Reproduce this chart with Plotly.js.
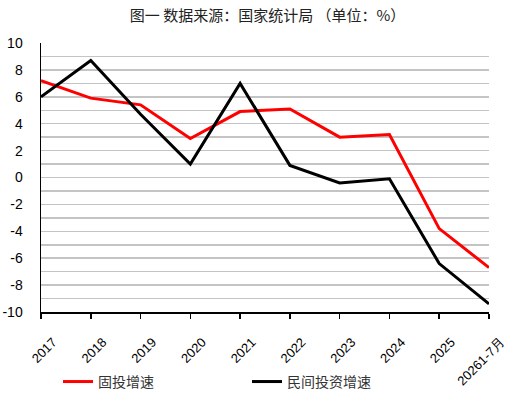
<!DOCTYPE html>
<html>
<head>
<meta charset="utf-8">
<script src="https://cdn.plot.ly/plotly-3.0.1.min.js"></script>
<style>html,body{margin:0;padding:0;background:#fff;}#chart{width:532px;height:400px;}</style>
</head>
<body>
<div id="chart"></div>
<script>
const categories = ['2017','2018','2019','2020','2021','2022','2023','2024','2025','20261-7月'];
const fixedInvestGrowth = [7.2, 5.9, 5.4, 2.9, 4.9, 5.1, 3.0, 3.2, -3.8, -6.7];
const privateInvestGrowth = [6.0, 8.7, 4.7, 1.0, 7.0, 0.9, -0.4, -0.1, -6.4, -9.4];
const seriesNames = ['固投增速', '民间投资增速'];
const yTickValues = [-10, -8, -6, -4, -2, 0, 2, 4, 6, 8, 10];
const yTickLabels = ['-10', '-8', '-6', '-4', '-2', '0', '2', '4', '6', '8', '10'];

const traces = [
  {x: categories, y: fixedInvestGrowth, name: seriesNames[0], type: 'scatter', mode: 'lines',
   line: {color: '#ff0000', width: 3}},
  {x: categories, y: privateInvestGrowth, name: seriesNames[1], type: 'scatter', mode: 'lines',
   line: {color: '#000000', width: 3}}
];

const layout = {
  width: 532, height: 400,
  margin: {l: 41, r: 43, t: 43, b: 88, autoexpand: false},
  paper_bgcolor: '#fff', plot_bgcolor: '#fff',
  font: {family: 'Liberation Sans, Arial, sans-serif', size: 13, color: '#000'},
  title: {text: '图一 数据来源：国家统计局 （单位：%）', x: 0.503, xanchor: 'center', y: 0.96, yanchor: 'middle',
          font: {family: 'Noto Sans CJK SC, sans-serif', size: 15, color: '#222'}},
  xaxis: {type: 'category', range: [0, 9], showgrid: false, zeroline: false, automargin: false,
          showline: true, linecolor: '#000', linewidth: 1.5,
          ticks: 'outside', ticklen: 5, tickcolor: '#000', tickwidth: 1.5,
          tickangle: -45, ticklabelstandoff: 11, ticklabelshift: 12,
          tickfont: {family: 'Liberation Sans, Arial, sans-serif', size: 13, color: '#000'}},
  yaxis: {range: [-10, 10], tickvals: yTickValues, ticktext: yTickLabels, automargin: false,
          showgrid: true, gridcolor: '#c4c4c4', gridwidth: 1.5,
          minor: {dtick: 1, showgrid: true, gridcolor: '#c4c4c4', gridwidth: 1.5},
          zeroline: false, showline: true, linecolor: '#000', linewidth: 1.5, ticks: '',
          ticklabelstandoff: 14,
          tickfont: {family: 'Liberation Sans, Arial, sans-serif', size: 14, color: '#000'}},
  showlegend: true,
  legend: {orientation: 'h', x: 0.038, xanchor: 'left', y: -0.26, yanchor: 'middle',
           entrywidth: 144, itemwidth: 30,
           font: {family: 'Noto Sans CJK SC, sans-serif', size: 14, color: '#333'}}
};

Plotly.newPlot('chart', traces, layout, {displayModeBar: false, staticPlot: true});
</script>
</body>
</html>
